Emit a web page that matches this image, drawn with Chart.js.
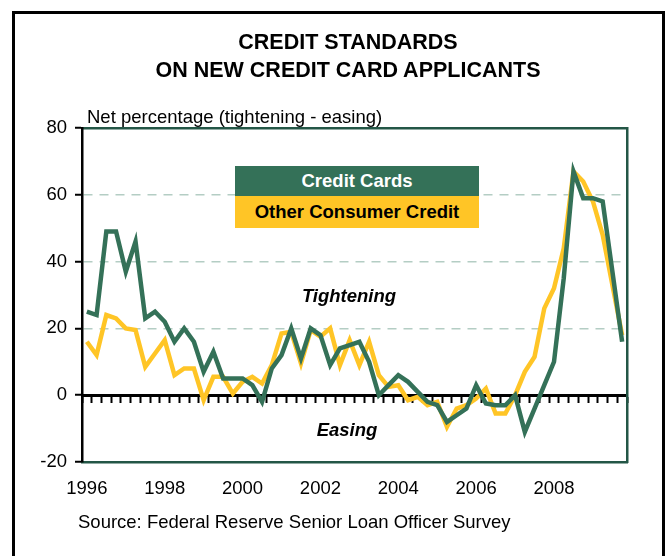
<!DOCTYPE html>
<html>
<head>
<meta charset="utf-8">
<script src="https://cdn.jsdelivr.net/npm/chart.js@4.4.1/dist/chart.umd.min.js"></script>
<style>
html,body{margin:0;padding:0;background:#fff;}
#wrap{position:relative;width:668px;height:556px;overflow:hidden;font-family:'Liberation Sans',Arial,sans-serif;color:#000;}
#frame{position:absolute;left:12px;top:11px;width:647px;height:600px;border:3px solid #000;}
canvas{position:absolute;left:0;top:0;}
.t{position:absolute;white-space:nowrap;}
#title{left:0;width:696px;top:28px;text-align:center;font-weight:bold;font-size:21.5px;line-height:28px;}
#sub{left:87px;top:106px;font-size:18.5px;line-height:22px;}
#legend{position:absolute;left:235px;top:166px;width:244px;font-weight:bold;font-size:18.5px;text-align:center;}
#legend .cc{background:#347158;color:#fff;height:30px;line-height:30px;}
#legend .oc{background:#FFC526;color:#000;height:32px;line-height:32px;}
.ann{width:200px;text-align:center;font-weight:bold;font-style:italic;font-size:18.5px;line-height:22px;}
#tight{left:249px;top:285px;}
#eas{left:247px;top:419px;}
#src{left:78px;top:511px;font-size:18.5px;line-height:22px;}
</style>
</head>
<body>
<div id="wrap">
  <div id="frame"></div>
  <canvas id="c" width="668" height="556"></canvas>
  <div class="t" id="title">CREDIT STANDARDS<br>ON NEW CREDIT CARD APPLICANTS</div>
  <div class="t" id="sub">Net percentage (tightening - easing)</div>
  <div id="legend"><div class="cc">Credit Cards</div><div class="oc">Other Consumer Credit</div></div>
  <div class="t ann" id="tight">Tightening</div>
  <div class="t ann" id="eas">Easing</div>
  <div class="t" id="src">Source: Federal Reserve Senior Loan Officer Survey</div>
</div>
<script>
// ---- data ----
const years = [1996,1997,1998,1999,2000,2001,2002,2003,2004,2005,2006,2007,2008,2009];
const quarters = ['Q1','Q2','Q3','Q4'];
const tickYears = ['1996','1998','2000','2002','2004','2006','2008'];
const yTicks = [-20, 0, 20, 40, 60, 80];

const creditCards = [
  25, 24, 49, 49, 37, 46, 23, 25,
  22, 16, 20, 16, 7, 13, 5, 5,
  5, 3, -2, 8, 12, 20, 11, 20,
  18, 9, 14, 15, 16, 10, 0, 3,
  6, 4, 1, -2, -3, -8, -6, -4,
  3, -2.5, -3, -3, 0, -11, -4, 3,
  10, 35, 67, 59, 59, 58, 37, 16
];
const otherConsumer = [
  16, 12, 24, 23, 20, 19.5, 8.5, 12.5,
  16.5, 6, 8, 8, -1.5, 5.5, 5.5, 0.5,
  4, 5.5, 3.5, 9, 18.5, 19, 9.5, 19.5,
  17.5, 20, 9, 16.5, 9, 16, 6, 2.5,
  3, -1.5, -0.5, -3, -2, -9.5, -4, -3,
  -1, 2, -5.5, -5.5, 0, 7, 11.5, 26,
  32, 44, 67, 64, 58, 48, 33, 18
];

const labels = [];
years.forEach(y => quarters.forEach(q => labels.push(y + q)));

// ---- styles ----
const FONT = "'Liberation Sans', Arial, sans-serif";
const GREEN = '#347158';
const YELLOW = '#FFC526';
const FRAME_GREEN = '#235646';
const GRID = '#b4cdc4';

Chart.defaults.font.family = FONT;
Chart.defaults.color = '#000';

new Chart(document.getElementById('c'), {
  type: 'line',
  data: {
    labels: labels,
    datasets: [
      { label: 'Credit Cards', data: creditCards, borderColor: GREEN, backgroundColor: GREEN,
        borderWidth: 4.5, pointRadius: 0, tension: 0, fill: false, xAxisID: 'x', yAxisID: 'y' },
      { label: 'Other Consumer Credit', data: otherConsumer, borderColor: YELLOW, backgroundColor: YELLOW,
        borderWidth: 4.5, pointRadius: 0, tension: 0, fill: false, xAxisID: 'x', yAxisID: 'y' }
    ]
  },
  options: {
    responsive: false,
    animation: false,
    events: [],
    layout: { padding: { left: 0, top: 128, right: 41, bottom: 0 } },
    plugins: { legend: { display: false }, tooltip: { enabled: false }, title: { display: false } },
    scales: {
      x: {
        type: 'category', position: 'bottom', offset: true,
        grid: { display: false, drawTicks: false },
        border: { color: FRAME_GREEN, width: 2.5 },
        ticks: {
          autoSkip: false, maxRotation: 0, minRotation: 0, padding: 16,
          font: { size: 18.5, family: FONT }, color: '#000',
          callback: function (v, i) {
            const l = labels[i];
            const y = l.slice(0, 4), q = l.slice(4);
            return (q === 'Q1' && tickYears.includes(y)) ? y : '';
          }
        },
        afterFit: s => { s.height = 94; }
      },
      x2: {
        type: 'category', position: { y: 0 }, offset: true,
        grid: { offset: true, drawOnChartArea: false, drawTicks: true, tickLength: 6, tickWidth: 2, tickColor: '#000', color: '#000' },
        border: { color: '#000', width: 3 },
        ticks: { display: false }
      },
      x3: {
        type: 'category', position: 'top', offset: true,
        grid: { display: false, drawTicks: false },
        border: { color: FRAME_GREEN, width: 2.5 },
        ticks: { display: false },
        afterFit: s => { s.height = 0; }
      },
      y: {
        type: 'linear', position: 'left', min: -20, max: 80,
        afterBuildTicks: s => { s.ticks = yTicks.map(v => ({ value: v })); },
        ticks: { padding: 8, font: { size: 18.5, family: FONT }, color: '#000' },
        grid: {
          color: c => (c.tick && [20, 40, 60].includes(c.tick.value)) ? GRID : 'rgba(0,0,0,0)',
          lineWidth: 1.5, drawTicks: true, tickLength: 7, tickWidth: 2, tickColor: '#000'
        },
        border: { color: '#000', width: 2.5, dash: [9, 7] },
        afterFit: s => { s.width = 82; }
      },
      y2: {
        type: 'linear', position: 'right', min: -20, max: 80,
        grid: { display: false, drawTicks: false },
        border: { color: FRAME_GREEN, width: 2.5 },
        ticks: { display: false },
        afterFit: s => { s.width = 0; }
      }
    }
  }
});
</script>
</body>
</html>
